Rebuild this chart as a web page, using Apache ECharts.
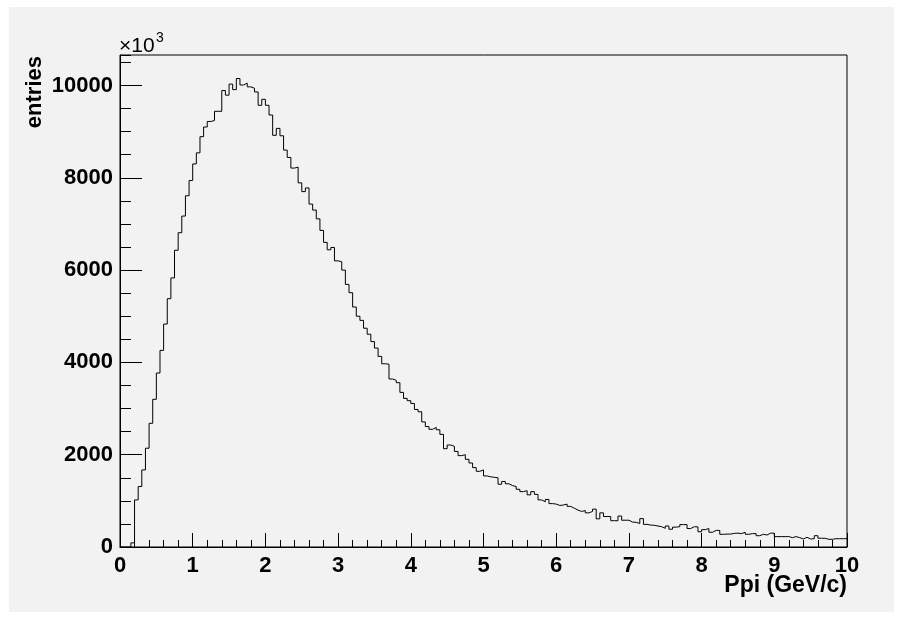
<!DOCTYPE html>
<html>
<head>
<meta charset="utf-8">
<script src="https://cdn.jsdelivr.net/npm/echarts@6/dist/echarts.min.js"></script>
<style>
  html, body { margin: 0; padding: 0; background: #ffffff; }
  #chart { width: 904px; height: 619px; }
</style>
</head>
<body>
<div id="chart"></div>
<script>
// Pion momentum spectrum: 200 bins of 0.05 GeV/c from 0 to 10 GeV/c.
// Counts are in units of 10^3 entries.
const binLow = 0;
const binWidth = 0.05;
const counts = [
  0, 0, 0, 90, 1020, 1310, 1670, 2140, 2680, 3200,
  3770, 4260, 4830, 5380, 5830, 6430, 6810, 7170, 7610, 7940,
  8300, 8540, 8890, 9100, 9220, 9240, 9440, 9440, 9890, 9790,
  10030, 9910, 10150, 10010, 10050, 9970, 9940, 9860, 9570, 9700,
  9570, 9360, 8920, 9070, 8910, 8600, 8440, 8210, 8230, 7890,
  7700, 7780, 7430, 7300, 7110, 6860, 6600, 6440, 6490, 6200,
  6180, 6000, 5690, 5510, 5200, 5000, 4910, 4740, 4610, 4450,
  4310, 4130, 3970, 3960, 3640, 3610, 3560, 3350, 3220, 3170,
  3110, 2980, 2930, 2710, 2610, 2550, 2590, 2540, 2440, 2130,
  2210, 2180, 2070, 1980, 2000, 1900, 1820, 1720, 1640, 1670,
  1540, 1520, 1510, 1500, 1360, 1420, 1370, 1330, 1310, 1250,
  1200, 1220, 1130, 1200, 1140, 1020, 980, 1030, 940, 930,
  900, 910, 930, 880, 840, 800, 770, 790, 740, 770,
  820, 610, 740, 660, 660, 570, 570, 670, 580, 580,
  540, 535, 510, 615, 490, 475, 470, 455, 440, 405,
  455, 385, 430, 440, 485, 485, 400, 440, 435, 330,
  375, 400, 320, 360, 360, 275, 280, 280, 295, 300,
  290, 320, 275, 290, 290, 245, 275, 260, 300, 300,
  225, 225, 225, 225, 203, 225, 203, 174, 210, 174,
  180, 245, 190, 188, 167, 167, 180, 180, 180, 180
];

// Axis ranges and tick spacing
const xRange = [0, 10];
const yRange = [0, 10660];
const xMajor = 1;
const yMajor = 2000;
const yMinor = 500;
const xTitle = 'Ppi (GeV/c)';
const yTitle = 'entries';

// Step outline: each bin's low edge carries its count, plus the final upper edge.
const outline = counts.map((c, i) => [binLow + i * binWidth, c]);
outline.push([binLow + counts.length * binWidth, counts[counts.length - 1]]);

const FONT = '"Liberation Sans", Arial, Helvetica, sans-serif';
const plain = v => String(v);
const chart = echarts.init(document.getElementById('chart'), null, { renderer: 'canvas' });

chart.setOption({
  backgroundColor: '#ffffff',
  animation: false,
  graphic: [
    { type: 'rect', z: -10, silent: true,
      shape: { x: 9, y: 7, width: 885, height: 605 },
      style: { fill: '#f2f2f2' } },
    // multiplier of the y scale
    { type: 'text', silent: true, left: 119, top: 36,
      style: { text: '\u00d710', font: '21px ' + FONT, fill: '#000' } },
    { type: 'text', silent: true, left: 156, top: 31,
      style: { text: '3', font: '14px ' + FONT, fill: '#000' } },
    // axis titles
    { type: 'text', silent: true, rotation: Math.PI / 2, x: 24, y: 56,
      style: { text: yTitle, font: 'bold 22px ' + FONT, fill: '#000',
               align: 'right', verticalAlign: 'top' } },
    { type: 'text', silent: true, x: 847, y: 574,
      style: { text: xTitle, font: 'bold 23px ' + FONT, fill: '#000',
               align: 'right', verticalAlign: 'top' } }
  ],
  grid: {
    left: 120, top: 55, width: 727, height: 492,
    containLabel: false, outerBoundsMode: 'none',
    show: true, borderColor: '#000', borderWidth: 1,
    backgroundColor: 'transparent'
  },
  xAxis: {
    type: 'value', min: xRange[0], max: xRange[1], interval: xMajor,
    axisLine: { show: true, lineStyle: { color: '#000', width: 1 } },
    axisTick: { show: true, inside: true, length: 14, lineStyle: { color: '#000' } },
    minorTick: { show: true, splitNumber: 5, length: 7, lineStyle: { color: '#000' } },
    splitLine: { show: false },
    axisLabel: { fontFamily: FONT, fontWeight: 'bold', fontSize: 22, color: '#000',
                 margin: 8, formatter: plain }
  },
  yAxis: [
    {
      type: 'value', min: yRange[0], max: yRange[1], interval: yMajor,
      axisLine: { show: true, lineStyle: { color: '#000', width: 1 } },
      axisTick: { show: true, inside: true, length: 22, lineStyle: { color: '#000' } },
      splitLine: { show: false },
      axisLabel: { fontFamily: FONT, fontWeight: 'bold', fontSize: 22, color: '#000',
                   margin: 7, showMaxLabel: false, formatter: plain }
    },
    {
      type: 'value', min: yRange[0], max: yRange[1], interval: yMinor, position: 'left',
      axisLine: { show: false },
      axisTick: { show: true, inside: true, length: 11, lineStyle: { color: '#000' } },
      splitLine: { show: false },
      axisLabel: { show: false }
    }
  ],
  series: [{
    type: 'line', step: 'end', data: outline, yAxisIndex: 0,
    showSymbol: false, symbol: 'none', clip: true,
    lineStyle: { color: '#000', width: 1 }
  }]
});
</script>
</body>
</html>
